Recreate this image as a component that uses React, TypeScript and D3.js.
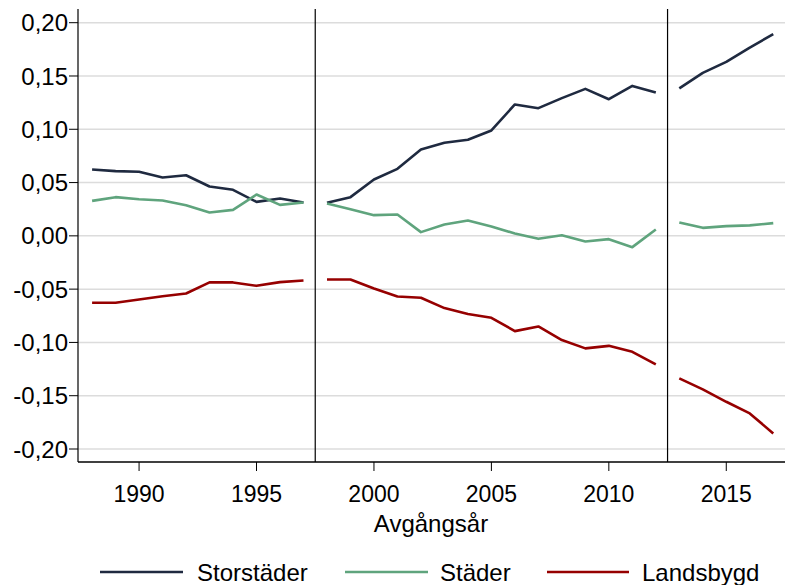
import React from "react";
import * as d3 from "d3";

const years1 = [1988, 1989, 1990, 1991, 1992, 1993, 1994, 1995, 1996, 1997];
const years2 = [1998, 1999, 2000, 2001, 2002, 2003, 2004, 2005, 2006, 2007, 2008, 2009, 2010, 2011, 2012];
const years3 = [2013, 2014, 2015, 2016, 2017];

const storstaderValues = [
  0.0623, 0.0607, 0.0601, 0.0548, 0.0569, 0.0463, 0.0432, 0.0319, 0.0351, 0.0313,
  0.031, 0.0363, 0.0529, 0.0629, 0.0811, 0.0873, 0.0901, 0.0989, 0.1233, 0.1198, 0.1292, 0.1379, 0.1282, 0.1407, 0.1345,
  0.1383, 0.1529, 0.1632, 0.1767, 0.1892,
];
const staderValues = [
  0.0328, 0.0363, 0.0344, 0.0332, 0.0288, 0.0219, 0.0244, 0.0388, 0.0291, 0.0313,
  0.0304, 0.025, 0.0194, 0.0201, 0.0035, 0.0107, 0.0144, 0.0088, 0.0022, -0.0028, 0.0006, -0.0053, -0.0031, -0.0106, 0.006,
  0.0126, 0.0075, 0.0091, 0.0098, 0.0119,
];
const landsbygdValues = [
  -0.0628, -0.0628, -0.0597, -0.0566, -0.0541, -0.0437, -0.0437, -0.0469, -0.0434, -0.0419,
  -0.0409, -0.0409, -0.0494, -0.0569, -0.0581, -0.0678, -0.0734, -0.0769, -0.0894, -0.085, -0.0978, -0.1056, -0.1032, -0.1088, -0.1206,
  -0.1338, -0.1441, -0.1557, -0.1666, -0.1854,
];

const seriesNames = ["Storstäder", "Städer", "Landsbygd"];
const seriesColors = ["#1f2a40", "#5fa47d", "#960000"];
const yTicks = [0.2, 0.15, 0.1, 0.05, 0, -0.05, -0.1, -0.15, -0.2];
const xTicks = [1990, 1995, 2000, 2005, 2010, 2015];
const breaks = [1997.5, 2012.5];
const xTitle = "Avgångsår";

const W = 785;
const H = 585;
const left = 78;
const top = 9;
const bottom = 462;
const right = 785;

export default function App() {
  const x = d3.scaleLinear().domain([1987.4, 2017.5]).range([left, right]);
  const y = d3.scaleLinear().domain([-0.2, 0.2]).range([449, 22.7]);
  const segments = [years1, years2, years3];
  const allSeries = [storstaderValues, staderValues, landsbygdValues];
  const line = d3
    .line<[number, number]>()
    .x((d) => x(d[0]))
    .y((d) => y(d[1]));
  const fmt = (v: number) => {
    const s = Math.abs(v).toFixed(2).replace(".", ",");
    return v < -1e-9 ? "-" + s : s;
  };
  const font = "'Liberation Sans', Arial, sans-serif";
  const legendItems = [
    { x1: 100, x2: 183, tx: 197 },
    { x1: 345, x2: 428, tx: 440 },
    { x1: 547, x2: 629, tx: 642 },
  ];
  return (
    <svg
      width={W}
      height={H}
      style={{ position: "absolute", left: 0, top: 0, background: "#fff" }}
      fontFamily={font}
    >
      <rect x={0} y={0} width={W} height={H} fill="#fff" />
      {yTicks.map((t) => (
        <line key={"g" + t} x1={left} x2={right} y1={y(t)} y2={y(t)} stroke="#dcdcdc" strokeWidth={1.5} />
      ))}
      {breaks.map((b) => (
        <line key={"b" + b} x1={x(b)} x2={x(b)} y1={top} y2={bottom} stroke="#000" strokeWidth={1.2} />
      ))}
      {allSeries.map((vals, si) => {
        let offset = 0;
        return segments.map((seg, k) => {
          const pts: [number, number][] = seg.map((yr, i) => [yr, vals[offset + i]]);
          offset += seg.length;
          return (
            <path
              key={si + "-" + k}
              d={line(pts) || ""}
              fill="none"
              stroke={seriesColors[si]}
              strokeWidth={2.6}
              strokeLinejoin="round"
            />
          );
        });
      })}
      <line x1={left} x2={left} y1={top} y2={bottom} stroke="#000" strokeWidth={1.2} />
      <line x1={left} x2={right} y1={bottom} y2={bottom} stroke="#000" strokeWidth={1.5} />
      {yTicks.map((t) => (
        <g key={"yt" + t}>
          <line x1={left - 9} x2={left} y1={y(t)} y2={y(t)} stroke="#000" strokeWidth={1} />
          <text x={left - 10} y={y(t)} dy="0.36em" textAnchor="end" fontSize={24} fill="#000">
            {fmt(t)}
          </text>
        </g>
      ))}
      {xTicks.map((t) => (
        <g key={"xt" + t}>
          <line x1={x(t)} x2={x(t)} y1={bottom} y2={bottom + 9} stroke="#000" strokeWidth={1} />
          <text x={x(t)} y={494} dy="0.36em" textAnchor="middle" fontSize={23} fill="#000">
            {t}
          </text>
        </g>
      ))}
      <text x={431} y={523} dy="0.36em" textAnchor="middle" fontSize={24} fill="#000">
        {xTitle}
      </text>
      {seriesNames.map((n, i) => (
        <g key={"lg" + n}>
          <line
            x1={legendItems[i].x1}
            x2={legendItems[i].x2}
            y1={572}
            y2={572}
            stroke={seriesColors[i]}
            strokeWidth={2.6}
          />
          <text x={legendItems[i].tx} y={572} dy="0.36em" fontSize={24} fill="#000">
            {n}
          </text>
        </g>
      ))}
    </svg>
  );
}
